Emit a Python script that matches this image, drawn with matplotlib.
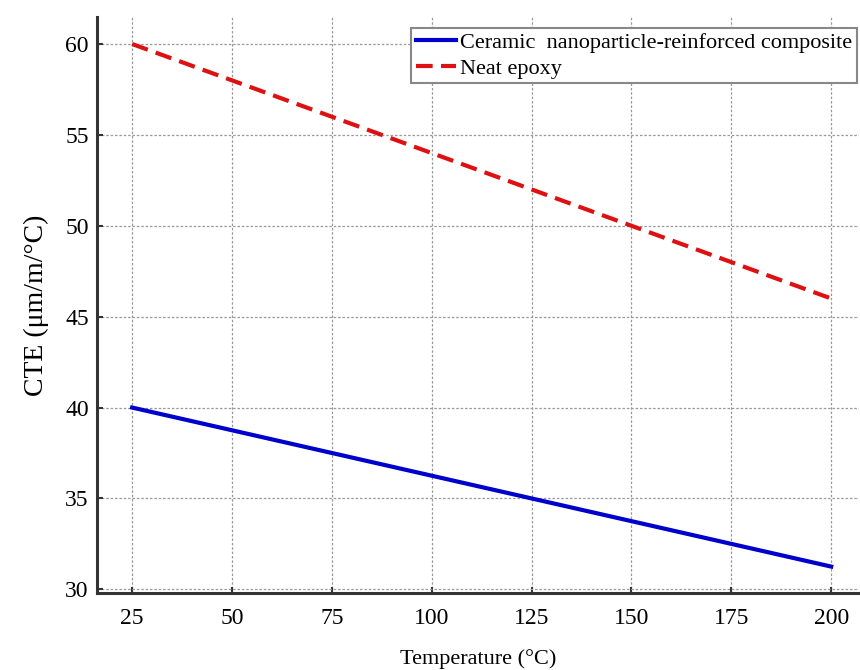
import matplotlib.pyplot as plt

# ── Data ───────────────────────────────────────────────────────────────────
temperature = [25, 50, 75, 100, 125, 150, 175, 200]
cte_composite = [40.0, 38.75, 37.5, 36.25, 35.0, 33.75, 32.5, 31.25]
cte_epoxy = [60, 58, 56, 54, 52, 50, 48, 46]

x_ticks = [25, 50, 75, 100, 125, 150, 175, 200]
y_ticks = [30, 35, 40, 45, 50, 55, 60]

plt.rcParams["font.family"] = ["Liberation Serif", "DejaVu Serif"]

# ── Plot ───────────────────────────────────────────────────────────────────
fig = plt.figure(figsize=(8.6, 6.7), dpi=100)
ax = fig.add_axes([0.113, 0.115, 0.886, 0.86])

ax.plot(temperature, cte_composite, color="#0000cc", lw=3,
        label="Ceramic  nanoparticle-reinforced composite")
ax.plot(temperature, cte_epoxy, color="#dd1111", lw=3, ls=(0, (4, 2)),
        label="Neat epoxy")

ax.set_xlim(16.25, 207)
ax.set_ylim(29.8, 61.5)
ax.set_xticks(x_ticks)
ax.set_yticks(y_ticks)
ax.tick_params(axis="both", direction="in", labelsize=17, length=4,
               width=1.5, color="#333333")
ax.tick_params(axis="x", pad=11)
ax.tick_params(axis="y", pad=6)

ax.grid(True, ls=(0, (2, 1.5)), color="#999999", lw=0.9)
for side in ["top", "right"]:
    ax.spines[side].set_visible(False)
for side in ["left", "bottom"]:
    ax.spines[side].set_linewidth(2.2)
    ax.spines[side].set_color("#333333")

ax.set_xlabel("Temperature (°C)", fontsize=16, labelpad=14)
ax.set_ylabel("CTE (μm/m/°C)", fontsize=20, labelpad=12)

leg = ax.legend(loc="upper right", bbox_to_anchor=(1.0, 0.985), fontsize=16,
                handlelength=1.8, handletextpad=0.2, borderpad=0.2,
                labelspacing=0.25, borderaxespad=0.1, fancybox=False,
                framealpha=1)
leg.get_frame().set_edgecolor("#888888")
leg.get_frame().set_linewidth(1.5)

plt.savefig("out.png", dpi=100)
